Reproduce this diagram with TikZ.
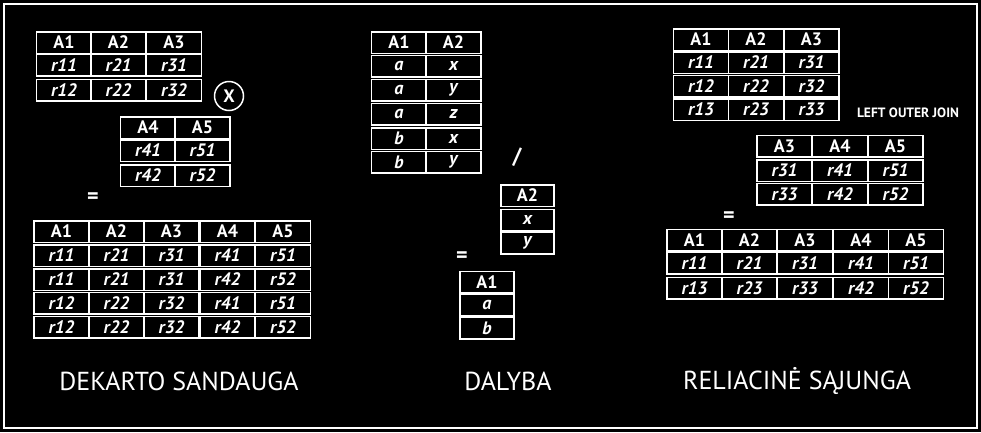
\documentclass[tikz,border=0pt]{standalone}
\usepackage{fontspec}
\setmainfont{PT Sans}
\tikzset{
  cell/.style={draw=white, line width=1.5pt, inner sep=0pt, text=white, minimum width=55pt, minimum height=21.5pt},
  hd/.style={cell, font=\fontsize{18}{18}\selectfont\bfseries},
  val/.style={cell, font=\fontsize{18}{18}\selectfont\bfseries\itshape},
  op/.style={text=white, inner sep=0pt, font=\fontsize{22}{22}\selectfont\bfseries},
  caption/.style={text=white, inner sep=0pt, font=\fontsize{26}{26}\selectfont}
}
\begin{document}
\begin{tikzpicture}[x=1pt,y=-1pt]
\fill[black] (0,0) rectangle (981,432);
\draw[white,line width=2pt] (4,4) rectangle (977,428);

% dekarto sandauga
\node[hd] (t1h1) at (64,42.5) {A1};
\node[hd] (t1h2) at (118.5,42.5) {A2};
\node[hd] (t1h3) at (174,42.5) {A3};
\node[val] (t1r11) at (64,65) {r11};
\node[val] (t1r12) at (118.5,65) {r21};
\node[val] (t1r13) at (174,65) {r31};
\node[val] (t1r21) at (64,90) {r12};
\node[val] (t1r22) at (118.5,90) {r22};
\node[val] (t1r23) at (174,90) {r32};

\node[circle,draw=white,line width=1.5pt,minimum size=29pt,inner sep=0pt,text=white,font=\fontsize{18}{18}\selectfont\bfseries] (times) at (229,96) {X};

\node[hd] (t2h1) at (148,127.5) {A4};
\node[hd] (t2h2) at (202.5,127.5) {A5};
\node[val] (t2r11) at (148,150.5) {r41};
\node[val] (t2r12) at (202.5,150.5) {r51};
\node[val] (t2r21) at (148,175.5) {r42};
\node[val] (t2r22) at (202.5,175.5) {r52};

\node[op] (eq1) at (93,198) {=};

\node[hd] (t3h1) at (61.5,231.5) {A1};
\node[hd] (t3h2) at (116.5,231.5) {A2};
\node[hd] (t3h3) at (171.5,231.5) {A3};
\node[hd] (t3h4) at (227.5,231.5) {A4};
\node[hd] (t3h5) at (283,231.5) {A5};
\node[val] (t3r11) at (61.5,255.5) {r11};
\node[val] (t3r12) at (116.5,255.5) {r21};
\node[val] (t3r13) at (171.5,255.5) {r31};
\node[val] (t3r14) at (227.5,255.5) {r41};
\node[val] (t3r15) at (283,255.5) {r51};
\node[val] (t3r21) at (61.5,279.5) {r11};
\node[val] (t3r22) at (116.5,279.5) {r21};
\node[val] (t3r23) at (171.5,279.5) {r31};
\node[val] (t3r24) at (227.5,279.5) {r42};
\node[val] (t3r25) at (283,279.5) {r52};
\node[val] (t3r31) at (61.5,303) {r12};
\node[val] (t3r32) at (116.5,303) {r22};
\node[val] (t3r33) at (171.5,303) {r32};
\node[val] (t3r34) at (227.5,303) {r41};
\node[val] (t3r35) at (283,303) {r51};
\node[val] (t3r41) at (61.5,327) {r12};
\node[val] (t3r42) at (116.5,327) {r22};
\node[val] (t3r43) at (171.5,327) {r32};
\node[val] (t3r44) at (227.5,327) {r42};
\node[val] (t3r45) at (283,327) {r52};

% dalyba
\node[hd] (t4h1) at (399,42.5) {A1};
\node[hd] (t4h2) at (453.5,42.5) {A2};
\node[val] (t4r11) at (399,66) {a};
\node[val] (t4r12) at (453.5,66) {x};
\node[val] (t4r21) at (399,90) {a};
\node[val] (t4r22) at (453.5,90) {y};
\node[val] (t4r31) at (399,114) {a};
\node[val] (t4r32) at (453.5,114) {z};
\node[val] (t4r41) at (399,138.5) {b};
\node[val] (t4r42) at (453.5,138.5) {x};
\node[val] (t4r51) at (399,162) {b};
\node[val] (t4r52) at (453.5,162) {y};

\node[op] (div) at (517,157) {/};

\node[hd,minimum width=53pt] (t5h1) at (527.5,195.5) {A2};
\node[val,minimum width=53pt] (t5r11) at (527.5,220) {x};
\node[val,minimum width=53pt] (t5r21) at (527.5,243) {y};

\node[op] (eq2) at (462,257) {=};

\node[hd,minimum width=54pt] (t6h1) at (487,282) {A1};
\node[val,minimum width=54pt] (t6r11) at (487,305) {a};
\node[val,minimum width=54pt] (t6r21) at (487,328) {b};

% reliacine sajunga
\node[hd] (t7h1) at (701,39.5) {A1};
\node[hd] (t7h2) at (756,39.5) {A2};
\node[hd] (t7h3) at (811.5,39.5) {A3};
\node[val] (t7r11) at (701,62.5) {r11};
\node[val] (t7r12) at (756,62.5) {r21};
\node[val] (t7r13) at (811.5,62.5) {r31};
\node[val] (t7r21) at (701,86) {r12};
\node[val] (t7r22) at (756,86) {r22};
\node[val] (t7r23) at (811.5,86) {r32};
\node[val] (t7r31) at (701,109.5) {r13};
\node[val] (t7r32) at (756,109.5) {r23};
\node[val] (t7r33) at (811.5,109.5) {r33};

\node[text=white,inner sep=0pt,font=\fontsize{13.5}{13.5}\selectfont\bfseries] (loj) at (908,113) {LEFT OUTER JOIN};

\node[hd] (t8h1) at (784.5,146) {A3};
\node[hd] (t8h2) at (840,146) {A4};
\node[hd] (t8h3) at (895.5,146) {A5};
\node[val] (t8r11) at (784.5,170.5) {r31};
\node[val] (t8r12) at (840,170.5) {r41};
\node[val] (t8r13) at (895.5,170.5) {r51};
\node[val] (t8r21) at (784.5,194) {r33};
\node[val] (t8r22) at (840,194) {r42};
\node[val] (t8r23) at (895.5,194) {r52};

\node[op] (eq3) at (729,217) {=};

\node[hd] (t9h1) at (694.5,240) {A1};
\node[hd] (t9h2) at (749.5,240) {A2};
\node[hd] (t9h3) at (805,240) {A3};
\node[hd] (t9h4) at (861,240) {A4};
\node[hd] (t9h5) at (916,240) {A5};
\node[val] (t9r11) at (694.5,263) {r11};
\node[val] (t9r12) at (749.5,263) {r21};
\node[val] (t9r13) at (805,263) {r31};
\node[val] (t9r14) at (861,263) {r41};
\node[val] (t9r15) at (916,263) {r51};
\node[val] (t9r21) at (694.5,288) {r13};
\node[val] (t9r22) at (749.5,288) {r23};
\node[val] (t9r23) at (805,288) {r33};
\node[val] (t9r24) at (861,288) {r42};
\node[val] (t9r25) at (916,288) {r52};

\node[caption] (dek) at (179,381) {DEKARTO SANDAUGA};
\node[caption] (dal) at (508,381) {DALYBA};
\node[caption] (rel) at (797,381) {RELIACINĖ SĄJUNGA};
\end{tikzpicture}
\end{document}
